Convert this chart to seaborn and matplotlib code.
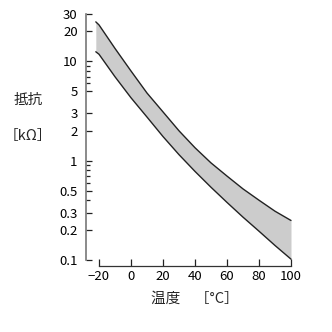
import matplotlib
matplotlib.use("Agg")
import matplotlib.pyplot as plt
import numpy as np
import pandas as pd
import seaborn as sns
from matplotlib.ticker import FixedLocator, NullFormatter

# Data
temp = [-22, -20, -10, 0, 10, 20, 30, 40, 50, 60, 70, 80, 90, 100]
r_upper = [25, 23.3, 13.5, 8.0, 4.8, 3.1, 2.0, 1.35, 0.95, 0.70, 0.52, 0.40, 0.31, 0.25]
r_lower = [12.5, 11.8, 7.0, 4.3, 2.75, 1.75, 1.15, 0.78, 0.54, 0.38, 0.27, 0.195, 0.14, 0.102]

x_ticks = [-20, 0, 20, 40, 60, 80, 100]
x_ticklabels = ["−20", "0", "20", "40", "60", "80", "100"]
y_ticks = [0.1, 0.2, 0.3, 0.5, 1, 2, 3, 5, 10, 20, 30]
y_ticklabels = ["0.1", "0.2", "0.3", "0.5", "1", "2", "3", "5", "10", "20", "30"]
y_minor = [0.4, 0.6, 0.7, 0.8, 0.9, 6, 7, 8, 9]

sns.set_theme(style="ticks")
plt.rcParams["font.family"] = ["Noto Sans CJK JP", "DejaVu Sans"]

df = pd.DataFrame({"temp": temp, "upper": r_upper, "lower": r_lower})

fig = plt.figure(figsize=(3.32, 3.32), dpi=100)
ax = fig.add_axes([99 / 332, 1 - 260 / 332, 192 / 332, 246 / 332])

ax.fill_between(df["temp"], df["lower"], df["upper"], color="#cccccc", lw=0, clip_on=False)
sns.lineplot(data=df, x="temp", y="upper", ax=ax, color="#222222", lw=1.0, clip_on=False)
sns.lineplot(data=df, x="temp", y="lower", ax=ax, color="#222222", lw=1.0, clip_on=False)

ax.set_yscale("log")
ax.set_xlim(-20, 100)
ax.set_ylim(0.1, 30)
ax.set_xticks(x_ticks)
ax.set_xticklabels(x_ticklabels)
ax.yaxis.set_major_locator(FixedLocator(y_ticks))
ax.set_yticklabels(y_ticklabels)
ax.yaxis.set_minor_locator(FixedLocator(y_minor))
ax.yaxis.set_minor_formatter(NullFormatter())
ax.xaxis.set_minor_locator(FixedLocator([]))

ax.set_xlabel("")
ax.set_ylabel("")
sns.despine(ax=ax)
ax.spines["left"].set_position(("outward", 9.4))
ax.spines["bottom"].set_position(("outward", 4.3))
ax.spines["left"].set_bounds(0.1, 30)
ax.spines["bottom"].set_bounds(-20, 100)
ax.spines["left"].set_linewidth(1.2)
ax.spines["left"].set_color("#777777")
ax.spines["bottom"].set_linewidth(0.9)
ax.spines["bottom"].set_color("#333333")

ax.tick_params(axis="both", which="both", direction="in", color="#222222",
               width=0.9, labelsize=9.5, labelcolor="black")
ax.tick_params(axis="y", which="major", length=4, pad=6)
ax.tick_params(axis="y", which="minor", length=3)
ax.tick_params(axis="x", which="major", length=5, pad=3)

fig.text(28 / 332, 1 - 100 / 332, "抵抗", ha="center", va="center", fontsize=10.5)
fig.text(28 / 332, 1 - 136 / 332, "［kΩ］", ha="center", va="center", fontsize=10.5)
fig.text(195 / 332, 1 - 299 / 332, "温度　［°C］", ha="center", va="center", fontsize=10.5)

fig.savefig("out.png", dpi=100)
